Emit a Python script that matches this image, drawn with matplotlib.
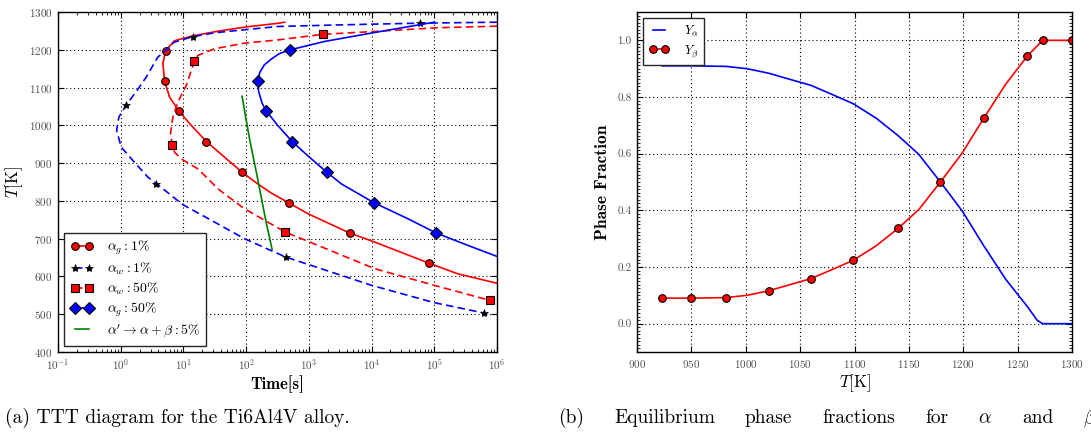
import matplotlib
matplotlib.use("Agg")
import matplotlib.pyplot as plt
from matplotlib.ticker import LogLocator, NullFormatter, MultipleLocator, FixedLocator, FormatStrFormatter

plt.rcParams['font.family'] = 'cmr10'
plt.rcParams['mathtext.fontset'] = 'cm'
plt.rcParams['axes.formatter.use_mathtext'] = True
plt.rcParams['axes.unicode_minus'] = False

# ---------------- Data: TTT diagram (time [s], temperature [K]) ----------------
ag1_t = [412, 318, 94, 35, 14.3, 7.2, 5.2, 4.7, 5.0, 6.0, 8.45, 13.3, 23.3, 45, 86, 150, 250, 476, 968, 4470, 11200, 82800, 237000, 1e6]
ag1_T = [1273, 1270, 1260, 1249, 1237, 1224, 1198, 1163, 1118, 1075, 1038, 1000, 957, 916, 876, 846, 821, 795, 766, 715, 691, 635, 607, 582]
ag1_marks = [6, 8, 10, 12, 14, 17, 19, 21]

aw1_t = [1e6, 59600, 3290, 318, 94, 31.6, 14.3, 7.1, 5.2, 3.9, 2.55, 1.78, 1.22, 0.935, 0.86, 1.02, 1.56, 2.71, 3.72, 9.8, 31.3, 93.8, 250, 427, 968, 10000, 100000, 630000]
aw1_T = [1273, 1270.5, 1266, 1261.6, 1253, 1245, 1235, 1220, 1198, 1180.6, 1127.7, 1090, 1053.5, 1021.8, 986.5, 942.4, 907, 863, 845.5, 790, 744, 700, 668.5, 651.5, 632, 576.5, 530.6, 503]
aw1_marks = [1, 6, 12, 18, 23, 27]

aw50_t = [1e6, 1e5, 11170, 1680, 318, 93.8, 31.3, 16.9, 15.0, 13.3, 11.1, 8.15, 6.78, 6.22, 6.6, 7.2, 9.2, 16.9, 24.5, 35.3, 93.8, 318, 417, 968, 11170, 1e5, 766000]
aw50_T = [1262.5, 1258, 1248.5, 1241, 1226, 1217.6, 1202.7, 1185, 1170, 1145, 1105.6, 1061.5, 1021.8, 977.7, 948, 929, 911.4, 885, 859, 832.2, 779.3, 729, 717.6, 693, 620.6, 576.5, 536.8]
aw50_marks = [3, 8, 14, 22, 26]

ag50_t = [1e5, 11170, 1780, 507, 340, 250, 195, 165, 153, 158, 180, 210, 318, 546, 1000, 1945, 3300, 10900, 37800, 107000, 342000, 1e6]
ag50_T = [1273, 1245.8, 1222, 1200, 1190, 1175, 1160, 1140, 1118, 1090, 1058, 1037.6, 1000, 956.5, 917, 875.4, 845, 795.2, 752.9, 715, 682.3, 653]
ag50_marks = [3, 8, 11, 13, 15, 17, 19]

mart_t = [86, 113, 149, 208, 259]
mart_T = [1077, 965, 867, 744, 672]

time_ticks = [1e-1, 1e0, 1e1, 1e2, 1e3, 1e4, 1e5, 1e6]

# ---------------- Data: equilibrium phase fractions ----------------
Tb = [923, 950, 982, 1001, 1021, 1040, 1060, 1080, 1099, 1120, 1140, 1159, 1179, 1199, 1219, 1239, 1259, 1273, 1300]
Yb = [0.090, 0.090, 0.092, 0.100, 0.116, 0.137, 0.159, 0.192, 0.224, 0.275, 0.336, 0.402, 0.500, 0.602, 0.726, 0.845, 0.945, 1.0, 1.0]
Yb_marks = [0, 1, 2, 4, 6, 8, 10, 12, 14, 16, 17, 18]

Ta = [923, 950, 982, 1001, 1021, 1040, 1060, 1080, 1099, 1120, 1140, 1159, 1179, 1199, 1219, 1239, 1259, 1268, 1273, 1300]
Ya = [0.910, 0.910, 0.908, 0.900, 0.884, 0.863, 0.841, 0.808, 0.776, 0.725, 0.664, 0.598, 0.500, 0.398, 0.274, 0.157, 0.060, 0.012, 0.0, 0.0]

caption_a = '(a) TTT diagram for the Ti6Al4V alloy.'
caption_b_words = ['(b)', 'Equilibrium', 'phase', 'fractions', 'for', r'$\alpha$', 'and', r'$\beta$']

W, H = 1091, 436
fig = plt.figure(figsize=(W / 100, H / 100), dpi=100)
fig.patch.set_facecolor('white')

ax1 = fig.add_axes([58 / W, (H - 352) / H, 439 / W, 340 / H])
ax2 = fig.add_axes([637 / W, (H - 352) / H, 435 / W, 340 / H])

grid_kw = dict(color='k', linestyle=(0, (1, 2.5)), linewidth=0.8)
dash = (0, (4.5, 2.6))

ax1.plot(ag1_t, ag1_T, '-', color='r', lw=1.2, marker='o', ms=5.5, mfc='r', mec='k', mew=0.8,
         markevery=ag1_marks, label=r'$\alpha_g : 1\%$')
ax1.plot(aw1_t, aw1_T, linestyle=dash, color='b', lw=1.2, marker='*', ms=6, mfc='k', mec='k', mew=0.5,
         markevery=aw1_marks, label=r'$\alpha_w : 1\%$')
ax1.plot(aw50_t, aw50_T, linestyle=dash, color='r', lw=1.2, marker='s', ms=5.5, mfc='r', mec='k', mew=0.8,
         markevery=aw50_marks, label=r'$\alpha_w : 50\%$')
ax1.plot(ag50_t, ag50_T, '-', color='b', lw=1.2, marker='D', ms=6.5, mfc='b', mec='k', mew=0.8,
         markevery=ag50_marks, label=r'$\alpha_g : 50\%$')
ax1.plot(mart_t, mart_T, '-', color='g', lw=1.2, label=r"$\alpha' \rightarrow \alpha + \beta : 5\%$")

ax1.set_xscale('log')
ax1.set_xlim(0.1, 1e6)
ax1.set_ylim(400, 1300)
ax1.yaxis.set_major_locator(MultipleLocator(100))
ax1.xaxis.set_major_locator(FixedLocator(time_ticks))
ax1.xaxis.set_minor_locator(LogLocator(base=10, subs=range(2, 10), numticks=20))
ax1.xaxis.set_minor_formatter(NullFormatter())
ax1.grid(True, which='major', **grid_kw)
ax1.set_xlabel('Time[s]', family='cmb10', fontsize=12, labelpad=2)
ax1.set_ylabel(r'$T$[K]', fontsize=12, labelpad=3)

leg1 = ax1.legend(loc='lower left', fontsize=10, numpoints=2, handlelength=1.6, handletextpad=1.0,
                  labelspacing=0.25, borderpad=0.45, borderaxespad=0.45, fancybox=False,
                  framealpha=1, edgecolor='0.15')
leg1.get_frame().set_linewidth(1.0)

ax2.plot(Ta, Ya, '-', color='b', lw=1.2, label=r'$Y_\alpha$')
ax2.plot(Tb, Yb, '-', color='r', lw=1.2, marker='o', ms=5.5, mfc='r', mec='k', mew=0.8,
         markevery=Yb_marks, label=r'$Y_\beta$')
ax2.set_xlim(900, 1300)
ax2.set_ylim(-0.1, 1.1)
ax2.xaxis.set_major_locator(MultipleLocator(50))
ax2.yaxis.set_major_locator(FixedLocator([0.0, 0.2, 0.4, 0.6, 0.8, 1.0]))
ax2.yaxis.set_minor_locator(MultipleLocator(0.0125))
ax2.yaxis.set_major_formatter(FormatStrFormatter('%.1f'))
ax2.grid(True, which='major', **grid_kw)
ax2.set_xlabel(r'$T$[K]', fontsize=12, labelpad=2)
ax2.set_ylabel('Phase Fraction', family='cmb10', fontsize=12.5, labelpad=5)

leg2 = ax2.legend(loc='upper left', fontsize=9, numpoints=2, handlelength=1.6, handletextpad=1.2,
                  labelspacing=0.4, borderpad=0.45, borderaxespad=0.5, fancybox=False,
                  framealpha=1, edgecolor='0.15')
leg2.get_frame().set_linewidth(1.0)

for ax in (ax1, ax2):
    ax.tick_params(which='both', direction='in', top=True, right=True, labelsize=8, pad=4, colors='k',
                   labelcolor='0.3')
    ax.tick_params(which='major', length=4, width=0.8)
    ax.tick_params(which='minor', length=2, width=0.6)
    for s in ax.spines.values():
        s.set_linewidth(1.0)
        s.set_color('k')

cap_y = 1 - 418 / H
cap_fs = 14
fig.text(5 / W, cap_y, caption_a, fontsize=cap_fs, va='center', ha='left')

# caption (b): first line of a justified LaTeX caption, words spread over the line width
renderer = fig.canvas.get_renderer()
texts = [fig.text(0, cap_y, w, fontsize=cap_fs, va='center', ha='left') for w in caption_b_words]
widths = [t.get_window_extent(renderer).width for t in texts]
x_start, x_last = 558.0, 1083.0
gap = (x_last - x_start - sum(widths[:-1])) / (len(texts) - 1)
x = x_start
for t, w in zip(texts, widths):
    t.set_x(x / W)
    x += w + gap

fig.savefig('out.png', dpi=100, facecolor='white')
